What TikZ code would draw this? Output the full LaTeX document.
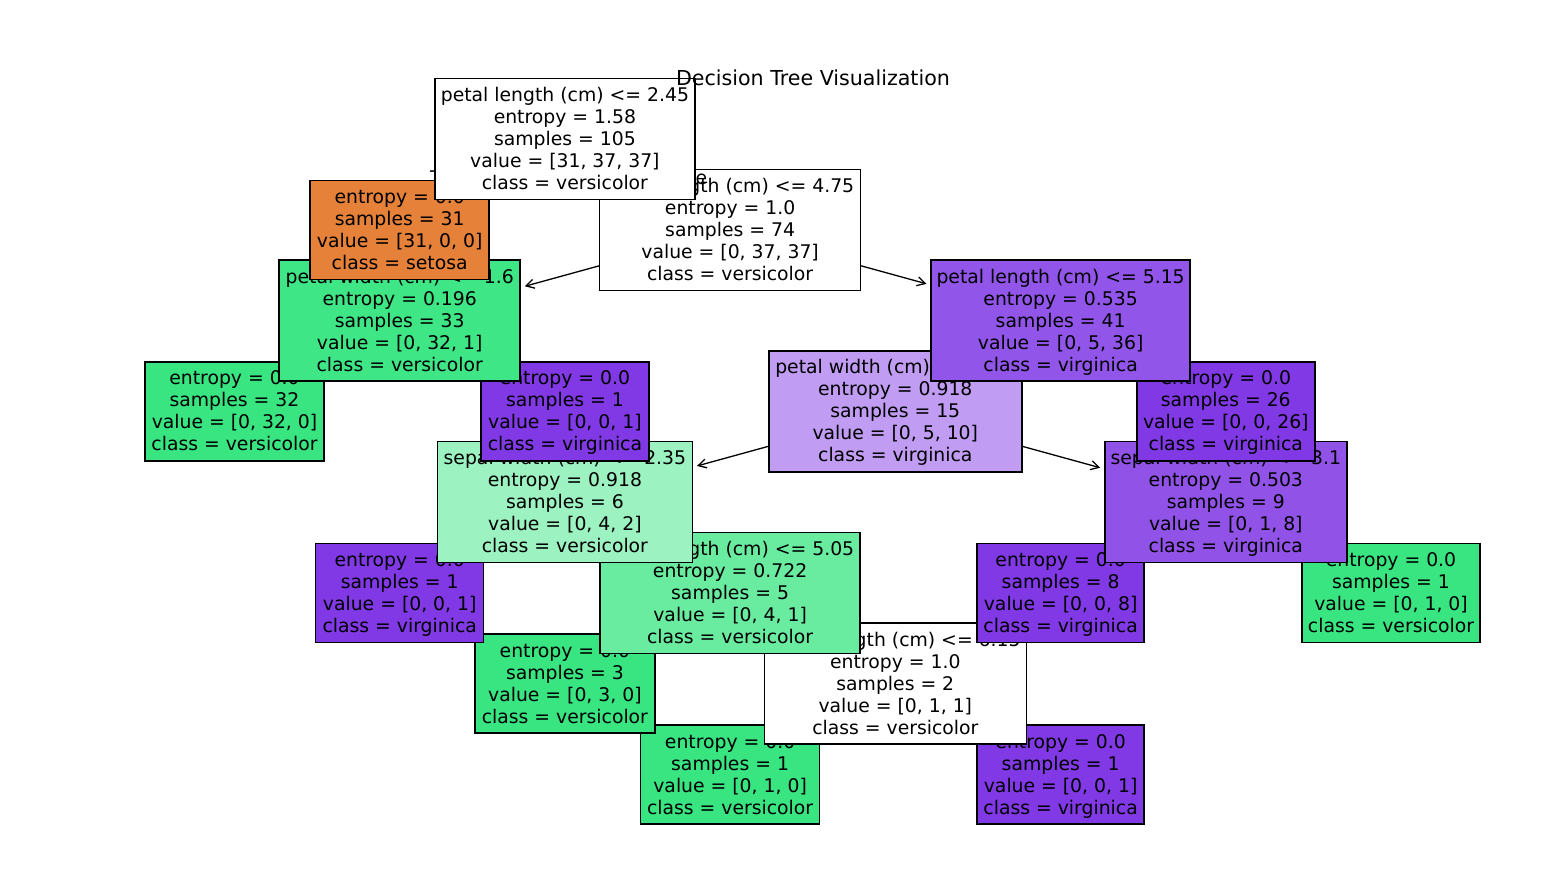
\documentclass[tikz,border=0pt]{standalone}
\usepackage{fontspec}
\setmainfont{DejaVu Sans}
\usetikzlibrary{arrows.meta}
\definecolor{orng}{RGB}{229,129,57}
\definecolor{grn}{RGB}{57,229,129}
\definecolor{prp}{RGB}{129,57,229}
\definecolor{grnA}{RGB}{63,230,133}
\definecolor{prpA}{RGB}{146,85,233}
\definecolor{prpB}{RGB}{192,156,242}
\definecolor{grnB}{RGB}{156,242,192}
\definecolor{grnC}{RGB}{106,236,160}
\definecolor{prpC}{RGB}{145,82,232}
\newcommand\tstr{\rule{0pt}{18pt}}
\newcommand\bstr{\rule[-5pt]{0pt}{5pt}}
\begin{document}
\begin{tikzpicture}[x=1pt,y=-1pt,
  tbox/.style={draw=black, line width=1.5pt, inner sep=0pt, align=center,
    font=\fontsize{18.8}{22}\selectfont, minimum width=#1},
  leaf/.style={tbox=#1, minimum height=99pt},
  split/.style={tbox=#1, minimum height=121pt},
  arr/.style={<-, >={Straight Barb[length=8pt,width=9pt]}, line width=1.3pt, shorten <=4pt},
  edgelbl/.style={font=\fontsize{18.8}{22}\selectfont, inner sep=0pt},
  ttl/.style={font=\fontsize{20.6}{24}\selectfont, inner sep=0pt}
]
\fill[white] (0,0) rectangle (1541,873);
\path[use as bounding box] (0,0) rectangle (1541,873);

% centres of the nodes
\coordinate (c0)  at (564.9,139.0);
\coordinate (c1)  at (399.7,229.8);
\coordinate (c2)  at (730.1,229.8);
\coordinate (c3)  at (399.7,320.6);
\coordinate (c6)  at (1060.6,320.6);
\coordinate (c4)  at (234.5,411.4);
\coordinate (c5)  at (564.9,411.4);
\coordinate (c7)  at (895.3,411.4);
\coordinate (c18) at (1225.8,411.4);
\coordinate (c8)  at (564.9,502.2);
\coordinate (c15) at (1225.8,502.2);
\coordinate (c9)  at (399.7,593.0);
\coordinate (c10) at (730.1,593.0);
\coordinate (c16) at (1060.6,593.0);
\coordinate (c17) at (1391.0,593.0);
\coordinate (c11) at (564.9,683.7);
\coordinate (c12) at (895.3,683.7);
\coordinate (c13) at (730.1,774.5);
\coordinate (c14) at (1060.6,774.5);

% depth 7
\node[leaf=179, fill=grn] (n13) at (c13) {\tstr entropy = 0.0\\samples = 1\\value = [0, 1, 0]\\class = versicolor\bstr};
\draw[arr] (n13) -- (c12);
\node[leaf=167, fill=prp] (n14) at (c14) {\tstr entropy = 0.0\\samples = 1\\value = [0, 0, 1]\\class = virginica\bstr};
\draw[arr] (n14) -- (c12);

% depth 6
\node[leaf=180, fill=grn] (n11) at (c11) {\tstr entropy = 0.0\\samples = 3\\value = [0, 3, 0]\\class = versicolor\bstr};
\draw[arr] (n11) -- (c10);
\node[split=262, fill=white] (n12) at (c12) {\tstr sepal length (cm) <= 6.15\\entropy = 1.0\\samples = 2\\value = [0, 1, 1]\\class = versicolor\bstr};
\draw[arr] (n12) -- (c10);

% depth 5
\node[leaf=168, fill=prp] (n9) at (c9) {\tstr entropy = 0.0\\samples = 1\\value = [0, 0, 1]\\class = virginica\bstr};
\draw[arr] (n9) -- (c8);
\node[split=260, fill=grnC] (n10) at (c10) {\tstr petal length (cm) <= 5.05\\entropy = 0.722\\samples = 5\\value = [0, 4, 1]\\class = versicolor\bstr};
\draw[arr] (n10) -- (c8);
\node[leaf=167, fill=prp] (n16) at (c16) {\tstr entropy = 0.0\\samples = 8\\value = [0, 0, 8]\\class = virginica\bstr};
\draw[arr] (n16) -- (c15);
\node[leaf=178, fill=grn] (n17) at (c17) {\tstr entropy = 0.0\\samples = 1\\value = [0, 1, 0]\\class = versicolor\bstr};
\draw[arr] (n17) -- (c15);

% depth 4
\node[split=255, fill=grnB] (n8) at (c8) {\tstr sepal width (cm) <= 2.35\\entropy = 0.918\\samples = 6\\value = [0, 4, 2]\\class = versicolor\bstr};
\draw[arr] (n8) -- (c7);
\node[split=242, fill=prpC] (n15) at (c15) {\tstr sepal width (cm) <= 3.1\\entropy = 0.503\\samples = 9\\value = [0, 1, 8]\\class = virginica\bstr};
\draw[arr] (n15) -- (c7);

% depth 3
\node[leaf=179, fill=grn] (n4) at (c4) {\tstr entropy = 0.0\\samples = 32\\value = [0, 32, 0]\\class = versicolor\bstr};
\draw[arr] (n4) -- (c3);
\node[leaf=168, fill=prp] (n5) at (c5) {\tstr entropy = 0.0\\samples = 1\\value = [0, 0, 1]\\class = virginica\bstr};
\draw[arr] (n5) -- (c3);
\node[split=253, fill=prpB] (n7) at (c7) {\tstr petal width (cm) <= 1.55\\entropy = 0.918\\samples = 15\\value = [0, 5, 10]\\class = virginica\bstr};
\draw[arr] (n7) -- (c6);
\node[leaf=178, fill=prp] (n18) at (c18) {\tstr entropy = 0.0\\samples = 26\\value = [0, 0, 26]\\class = virginica\bstr};
\draw[arr] (n18) -- (c6);

% depth 2
\node[split=241, fill=grnA] (n3) at (c3) {\tstr petal width (cm) <= 1.6\\entropy = 0.196\\samples = 33\\value = [0, 32, 1]\\class = versicolor\bstr};
\draw[arr] (n3) -- (c2);
\node[split=259, fill=prpA] (n6) at (c6) {\tstr petal length (cm) <= 5.15\\entropy = 0.535\\samples = 41\\value = [0, 5, 36]\\class = virginica\bstr};
\draw[arr] (n6) -- (c2);

% depth 1
\node[leaf=179, fill=orng] (n1) at (c1) {\tstr entropy = 0.0\\samples = 31\\value = [31, 0, 0]\\class = setosa\bstr};
\draw[arr] (n1) -- (c0);
\node[edgelbl, anchor=base east] (ltrue) at (470.2,184.3) {True};
\node[split=261, fill=white] (n2) at (c2) {\tstr petal length (cm) <= 4.75\\entropy = 1.0\\samples = 74\\value = [0, 37, 37]\\class = versicolor\bstr};
\draw[arr] (n2) -- (c0);
\node[edgelbl, anchor=base west] (lfalse) at (659.8,184.5) {False};

% depth 0
\node[split=260, fill=white] (n0) at (c0) {\tstr petal length (cm) <= 2.45\\entropy = 1.58\\samples = 105\\value = [31, 37, 37]\\class = versicolor\bstr};

\node[ttl, anchor=base] (title) at (813,85) {Decision Tree Visualization};
\end{tikzpicture}
\end{document}
